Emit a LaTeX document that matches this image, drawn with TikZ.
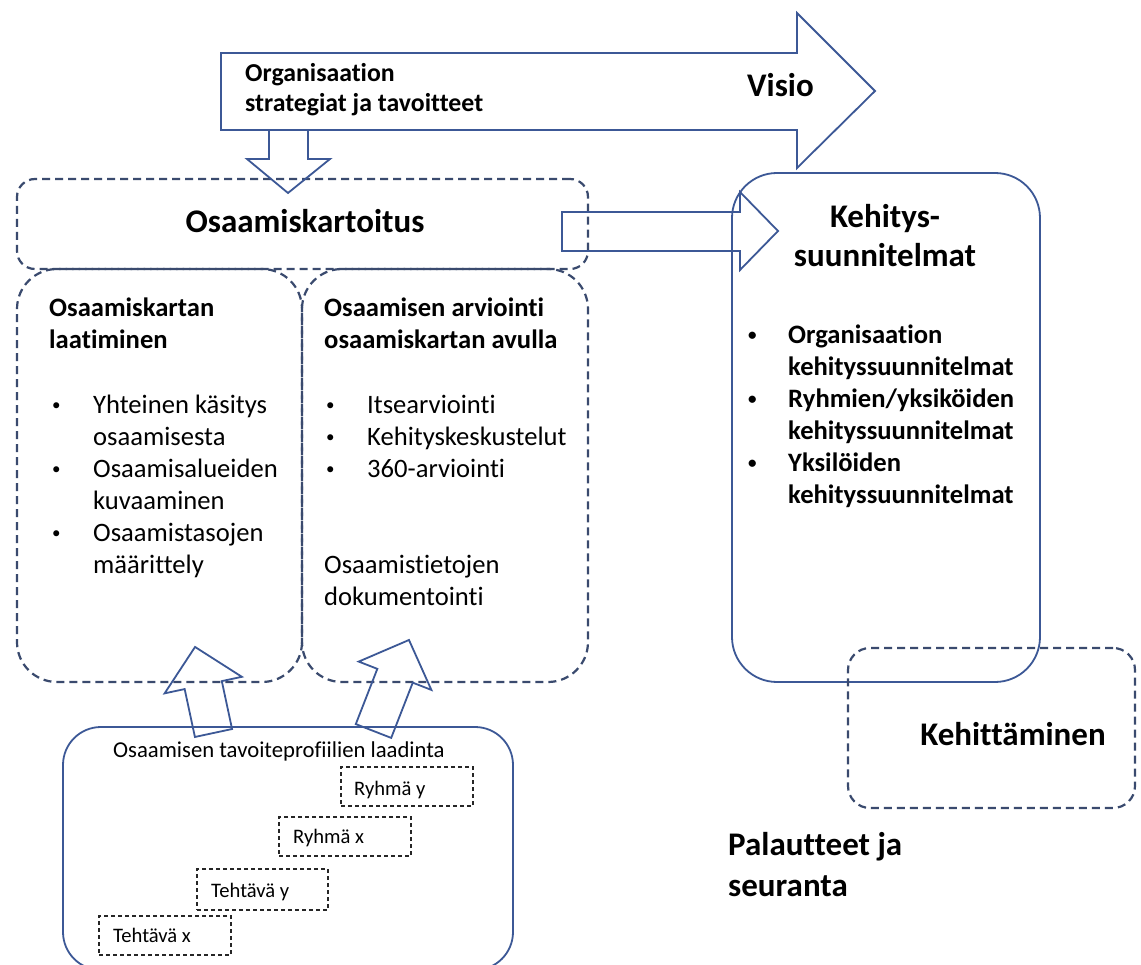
\documentclass[tikz,border=0pt]{standalone}
\usepackage{fontspec}
\setmainfont[Ligatures=NoCommon]{Carlito}
\definecolor{solidblue}{RGB}{60,88,150}
\definecolor{dashblue}{RGB}{58,74,110}
\newcommand\fsbody{\fontsize{26.6pt}{32pt}\selectfont}
\newcommand\fshead{\fontsize{33pt}{40pt}\selectfont}
\newcommand\fsorg{\fontsize{25.8pt}{30pt}\selectfont}
\newcommand\fsprof{\fontsize{22.7pt}{27pt}\selectfont}
\newcommand\fssmall{\fontsize{20.6pt}{25pt}\selectfont}
\newcommand\fsbul{\fontsize{17pt}{20pt}\selectfont}
\tikzset{
  blk/.style={draw=solidblue, line width=1.8pt, line join=miter},
  dsh/.style={draw=dashblue, line width=2.2pt, dash pattern=on 8pt off 5pt},
  smalldash/.style={draw=black!85, line width=1.1pt, dash pattern=on 4pt off 3pt},
  box/.style={rectangle, inner sep=0pt},
  txt/.style={inner sep=0pt, anchor=base west},
  ctxt/.style={inner sep=0pt, anchor=base},
  bul/.style={inner sep=0pt, anchor=base west, font=\fsbul},
}
\begin{document}
\begin{tikzpicture}[x=1pt,y=-1pt]
\useasboundingbox (0,0) rectangle (1141,965);
\fill[white] (0,0) rectangle (1141,965);

% ---- boxes ----
\node[box, dsh, rounded corners=18pt, minimum width=571pt, minimum height=90pt] (kart) at (302.5,224) {};
\node[box, dsh, rounded corners=40pt, minimum width=285pt, minimum height=413pt] (laat) at (159.5,475.5) {};
\node[box, dsh, rounded corners=40pt, minimum width=286pt, minimum height=413pt] (arvi) at (445,475.5) {};
\node[box, blk, rounded corners=45pt, minimum width=308pt, minimum height=509pt] (kehs) at (886,427.5) {};
\node[box, dsh, rounded corners=22pt, minimum width=287pt, minimum height=160pt] (keht) at (991.5,728) {};
\node[box, blk, rounded corners=38pt, minimum width=450pt, minimum height=243pt] (prof) at (288,848.5) {};
\node[box, smalldash, minimum width=132pt, minimum height=39pt] (ry) at (407,786.5) {};
\node[box, smalldash, minimum width=132pt, minimum height=39pt] (rx) at (345,836.5) {};
\node[box, smalldash, minimum width=131pt, minimum height=41pt] (ty) at (262.5,889.5) {};
\node[box, smalldash, minimum width=132pt, minimum height=39pt] (tx) at (165,935.5) {};

% ---- block arrows ----
\draw[blk] (221,53) -- (797,53) -- (797,13) -- (875,91) -- (797,168) -- (797,130) -- (221,130) -- cycle;
\draw[blk] (269,130) -- (269,159) -- (247,159) -- (288,193) -- (330,159) -- (308,159) -- (308,130);
\draw[blk] (562,212) -- (740,212) -- (740,192) -- (778,231) -- (740,270) -- (740,251) -- (562,251) -- cycle;
\begin{scope}[shift={(213.5,733)}, rotate=12.1]
\draw[blk] (-19,0) -- (-19,-49) -- (-39.5,-49) -- (0,-88) -- (39.5,-49) -- (19,-49) -- (19,0) -- cycle;
\end{scope}
\begin{scope}[shift={(373.5,731)}, rotate=-21.3]
\draw[blk] (-19,0) -- (-19,-59.3) -- (-39,-59.3) -- (0,-97.7) -- (39,-59.3) -- (19,-59.3) -- (19,0) -- cycle;
\end{scope}

% ---- texts: top arrow ----
\node[txt, font=\fsorg\bfseries] (org1) at (245,82) {Organisaation};
\node[txt, font=\fsorg\bfseries] (org2) at (245,112) {strategiat ja tavoitteet};
\node[ctxt, font=\fshead\bfseries] (visio) at (780.5,97) {Visio};

% ---- Osaamiskartoitus ----
\node[ctxt, font=\fshead\bfseries] (kartt) at (305,233) {Osaamiskartoitus};

% ---- left column ----
\node[txt, font=\fsbody\bfseries] (l1) at (49,317) {Osaamiskartan};
\node[txt, font=\fsbody\bfseries] (l2) at (49,349) {laatiminen};
\node[bul] (lb1) at (52,410.5) {•};
\node[txt, font=\fsbody] (lt1) at (93,413.5) {Yhteinen käsitys};
\node[txt, font=\fsbody] (lt2) at (93,445.5) {osaamisesta};
\node[bul] (lb2) at (52,474.5) {•};
\node[txt, font=\fsbody] (lt3) at (93,477.5) {Osaamisalueiden};
\node[txt, font=\fsbody] (lt4) at (93,509.5) {kuvaaminen};
\node[bul] (lb3) at (52,538.5) {•};
\node[txt, font=\fsbody] (lt5) at (93,541.5) {Osaamistasojen};
\node[txt, font=\fsbody] (lt6) at (93,573.5) {määrittely};

% ---- right column ----
\node[txt, font=\fsbody\bfseries] (r1) at (324,317) {Osaamisen arviointi};
\node[txt, font=\fsbody\bfseries] (r2) at (324,349) {osaamiskartan avulla};
\node[bul] (rb1) at (326,410.5) {•};
\node[txt, font=\fsbody] (rt1) at (367,413.5) {Itsearviointi};
\node[bul] (rb2) at (326,442.5) {•};
\node[txt, font=\fsbody] (rt2) at (367,445.5) {Kehityskeskustelut};
\node[bul] (rb3) at (326,474.5) {•};
\node[txt, font=\fsbody] (rt3) at (367,477.5) {360-arviointi};
\node[txt, font=\fsbody] (rt4) at (324,573.5) {Osaamistietojen};
\node[txt, font=\fsbody] (rt5) at (324,605.5) {dokumentointi};

% ---- Kehityssuunnitelmat ----
\node[ctxt, font=\fshead\bfseries] (k1) at (885,228) {Kehitys-};
\node[ctxt, font=\fshead\bfseries] (k2) at (885,267) {suunnitelmat};
\node[bul, font=\fsbul\bfseries] (kb1) at (748,340.5) {•};
\node[txt, font=\fsbody\bfseries] (kt1) at (788,343.5) {Organisaation};
\node[txt, font=\fsbody\bfseries] (kt2) at (788,375.5) {kehityssuunnitelmat};
\node[bul, font=\fsbul\bfseries] (kb2) at (748,404.5) {•};
\node[txt, font=\fsbody\bfseries] (kt3) at (788,407.5) {Ryhmien/yksiköiden};
\node[txt, font=\fsbody\bfseries] (kt4) at (788,439.5) {kehityssuunnitelmat};
\node[bul, font=\fsbul\bfseries] (kb3) at (748,468.5) {•};
\node[txt, font=\fsbody\bfseries] (kt5) at (788,471.5) {Yksilöiden};
\node[txt, font=\fsbody\bfseries] (kt6) at (788,503.5) {kehityssuunnitelmat};

% ---- Kehittäminen / Palautteet ----
\node[ctxt, font=\fshead\bfseries] (kehtxt) at (1013,745) {Kehittäminen};
\node[txt, font=\fshead\bfseries] (pal1) at (728,855) {Palautteet ja};
\node[txt, font=\fshead\bfseries] (pal2) at (728,896) {seuranta};

% ---- bottom box ----
\node[txt, font=\fsprof] (proft) at (113,757) {Osaamisen tavoiteprofiilien laadinta};
\node[txt, font=\fssmall] (ryt) at (354,795) {Ryhmä y};
\node[txt, font=\fssmall] (rxt) at (293,843) {Ryhmä x};
\node[txt, font=\fssmall] (tyt) at (211,897) {Tehtävä y};
\node[txt, font=\fssmall] (txt1) at (113,942) {Tehtävä x};
\end{tikzpicture}
\end{document}
